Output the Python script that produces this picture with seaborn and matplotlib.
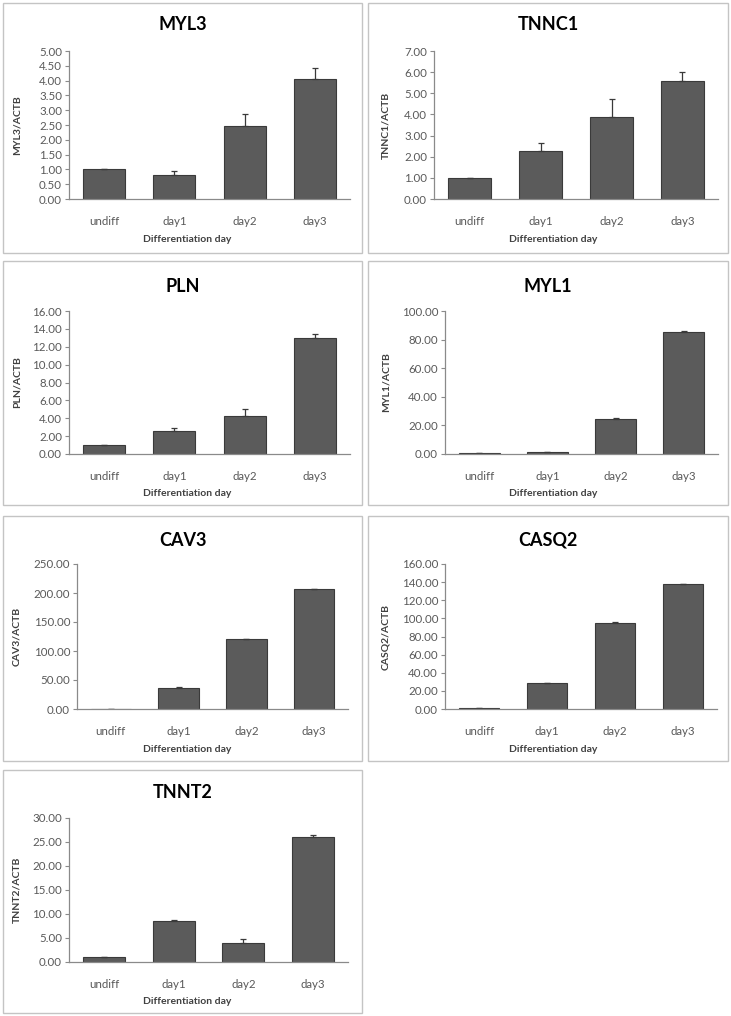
import matplotlib
matplotlib.use("Agg")
import matplotlib.pyplot as plt
from matplotlib.patches import Rectangle
import seaborn as sns
import numpy as np
import pandas as pd

sns.set_style("white")
plt.rcParams['font.family'] = ['Lato', 'DejaVu Sans']

days = ["undiff", "day1", "day2", "day3"]
genes = ["MYL3", "TNNC1", "PLN", "MYL1", "CAV3", "CASQ2", "TNNT2"]

myl3 = [1.00, 0.82, 2.47, 4.06]
myl3_err = [0.0, 0.14, 0.39, 0.35]
tnnc1 = [1.00, 2.29, 3.86, 5.59]
tnnc1_err = [0.0, 0.35, 0.85, 0.42]
pln = [1.00, 2.57, 4.24, 12.94]
pln_err = [0.0, 0.37, 0.82, 0.44]
myl1 = [1.0, 1.1, 24.2, 85.6]
myl1_err = [0.0, 0.1, 0.8, 0.5]
cav3 = [0.5, 36.3, 120.4, 206.8]
cav3_err = [0.0, 1.5, 1.0, 0.0]
casq2 = [1.0, 29.1, 95.1, 137.5]
casq2_err = [0.0, 0.0, 1.1, 0.7]
tnnt2 = [1.0, 8.47, 4.03, 26.04]
tnnt2_err = [0.0, 0.3, 0.83, 0.4]

ymax = [5.0, 7.0, 16.0, 100.0, 250.0, 160.0, 30.0]
ystep = [0.5, 1.0, 2.0, 20.0, 50.0, 20.0, 5.0]

values = [myl3, tnnc1, pln, myl1, cav3, casq2, tnnt2]
errors = [myl3_err, tnnc1_err, pln_err, myl1_err, cav3_err, casq2_err, tnnt2_err]

W, H = 731, 1016
fig = plt.figure(figsize=(W / 100, H / 100), dpi=100)

# layout in pixels
boxes = [(3, 3, 362, 253), (368, 3, 728, 253),
         (3, 261, 362, 505), (368, 261, 728, 505),
         (3, 516, 362, 761), (368, 516, 728, 761),
         (3, 770, 362, 1013)]
axes_px = [(69, 51, 350, 199), (434, 51, 718, 199),
           (69, 311, 350, 454), (445, 311, 718, 454),
           (77, 564, 348, 709), (445, 564, 717, 709),
           (69, 818, 348, 962)]
title_y = [25, 25, 287, 287, 540, 540, 793]
xlab_y = [239, 239, 494, 494, 749, 749, 1002]
ylab_x = [17, 386, 17, 386, 17, 386, 17]


def fx(px):
    return px / W


def fy(py):
    return 1 - py / H


bar_color = "#5b5b5b"
edge_color = "#3a3a3a"
axis_color = "#8a8a8a"
text_gray = "#595959"

for i, gene in enumerate(genes):
    bx0, by0, bx1, by1 = boxes[i]
    fig.patches.append(Rectangle((fx(bx0), fy(by1)), fx(bx1 - bx0), (by1 - by0) / H,
                                 transform=fig.transFigure, fill=False,
                                 edgecolor="#c4c4c4", linewidth=1.0))
    l, t, r, b = axes_px[i]
    ax = fig.add_axes([fx(l), fy(b), fx(r - l), (b - t) / H])
    df = pd.DataFrame({"day": days, "value": values[i]})
    sns.barplot(data=df, x="day", y="value", color=bar_color, saturation=1,
                width=0.6, edgecolor=edge_color, linewidth=0.8, ax=ax, errorbar=None)
    err = np.array(errors[i])
    ax.errorbar(np.arange(len(days)), values[i], yerr=[np.zeros_like(err), err],
                fmt="none", ecolor="#3a3a3a", elinewidth=0.9, capsize=2.5, capthick=0.9)
    ax.set_xlim(-0.5, 3.5)
    ax.set_ylim(0, ymax[i])
    ticks = np.arange(0, ymax[i] + ystep[i] / 2, ystep[i])
    ax.set_yticks(ticks)
    ax.set_yticklabels([f"{v:.2f}" for v in ticks])
    ax.set_xlabel("")
    ax.set_ylabel("")
    for s in ["top", "right"]:
        ax.spines[s].set_visible(False)
    for s in ["left", "bottom"]:
        ax.spines[s].set_color(axis_color)
        ax.spines[s].set_linewidth(0.9)
    ax.tick_params(axis="y", which="both", left=True, length=3, width=0.8,
                   color=axis_color, labelsize=8.3, labelcolor=text_gray, pad=2)
    ax.tick_params(axis="x", bottom=False, labelsize=8.3, labelcolor=text_gray, pad=9)
    ax.set_facecolor("white")

    cx = (bx0 + bx1) / 2
    fig.text(fx(cx), fy(title_y[i]), gene, ha="center", va="center",
             fontsize=13, fontweight="bold", color="black")
    fig.text(fx(cx + 5), fy(xlab_y[i]), "Differentiation day", ha="center", va="center",
             fontsize=7.5, fontweight="bold", color="#404040")
    fig.text(fx(ylab_x[i]), fy((t + b) / 2), f"{gene}/ACTB", ha="center", va="center",
             rotation=90, fontsize=7.5, fontweight="bold", color="#404040")

fig.savefig("out.png", dpi=100, facecolor="white")
